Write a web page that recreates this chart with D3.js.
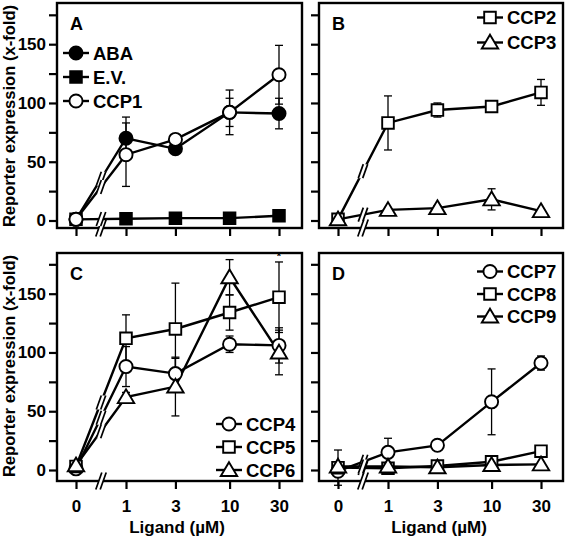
<!DOCTYPE html>
<html><head><meta charset="utf-8">
<script src="https://cdn.jsdelivr.net/npm/d3@7"></script>
<style>body{margin:0;background:#fff}svg{display:block}text{font-family:"Liberation Sans",Arial,sans-serif;font-weight:bold;fill:#000}</style>
</head><body>
<script>
// ---- data ----
const xValues = [0, 1, 3, 10, 30];
const xTickLabels = ["0", "1", "3", "10", "30"];
const yMajorTicks = [0, 50, 100, 150];
const yMinorTicks = [25, 75, 125, 175];

// Panel A
const abaVals   = [1, 70, 61, 92, 91];
const abaErr    = [0, 18, 3, 12, 13];
const evVals    = [1, 1.5, 2, 2, 4];
const evErr     = [0, 0, 0, 0, 0];
const ccp1Vals  = [1, 56, 69, 92, 124];
const ccp1Err   = [0, 27, 3, 19, 25];
// Panel B
const ccp2Vals  = [1, 83, 94, 97, 109];
const ccp2Err   = [0, 23, 6, 3, 11];
const ccp3Vals  = [1, 9, 10.5, 18, 8];
const ccp3Err   = [0, 2, 2, 9, 2];
// Panel C
const ccp4Vals  = [1, 88, 82, 107, 106];
const ccp4Err   = [0, 17, 13, 7, 15];
const ccp5Vals  = [3, 112, 120, 134, 147];
const ccp5Err   = [0, 20, 39, 15, 30];
const ccp6Vals  = [4, 62, 71, 164, 100];
const ccp6Err   = [0, 4, 25, 15, 19];
// Panel D
const ccp7Vals  = [-1, 15, 21, 58, 91];
const ccp7Err   = [0, 12, 3, 28, 6];
const ccp8Vals  = [2, 1.5, 3.4, 7, 16];
const ccp8Err   = [15, 0, 0, 0, 0];
const ccp9Vals  = [3, 3, 2.3, 4.3, 4.8];
const ccp9Err   = [0, 0, 0, 0, 0];

const panels = [
  {letter:"A", row:0, col:0, legendAt:"left", series:[
    {name:"ABA", sym:"circle", fill:"#000", v:abaVals, e:abaErr},
    {name:"E.V.", sym:"square", fill:"#000", v:evVals, e:evErr},
    {name:"CCP1", sym:"circle", fill:"#fff", v:ccp1Vals, e:ccp1Err}]},
  {letter:"B", row:0, col:1, legendAt:"right", series:[
    {name:"CCP2", sym:"square", fill:"#fff", v:ccp2Vals, e:ccp2Err},
    {name:"CCP3", sym:"triangle", fill:"#fff", v:ccp3Vals, e:ccp3Err}]},
  {letter:"C", row:1, col:0, legendAt:"bottomright", series:[
    {name:"CCP4", sym:"circle", fill:"#fff", v:ccp4Vals, e:ccp4Err},
    {name:"CCP5", sym:"square", fill:"#fff", v:ccp5Vals, e:ccp5Err},
    {name:"CCP6", sym:"triangle", fill:"#fff", v:ccp6Vals, e:ccp6Err}]},
  {letter:"D", row:1, col:1, legendAt:"right", series:[
    {name:"CCP7", sym:"circle", fill:"#fff", v:ccp7Vals, e:ccp7Err},
    {name:"CCP8", sym:"square", fill:"#fff", v:ccp8Vals, e:ccp8Err},
    {name:"CCP9", sym:"triangle", fill:"#fff", v:ccp9Vals, e:ccp9Err}]}
];

// ---- layout ----
const W = 566, H = 537;
const rows = [{top:3, bottom:228, zero:220.5}, {top:253, bottom:481, zero:470}];
const cols = [{left:57, right:302}, {left:319, right:563}];
const svg = d3.select("body").append("svg").attr("width", W).attr("height", H);

function symPath(sym) {
  if (sym === "circle") return d3.symbol(d3.symbolCircle, 135)();
  if (sym === "square") return d3.symbol(d3.symbolSquare, 135)();
  return "M0,-7.8L8.2,6L-8.2,6Z";
}

function breakMark(g, bx, by, dx, dy, gap) {
  g.append("path")
    .attr("d", `M${bx-gap-dx},${by+dy}L${bx-gap+dx},${by-dy}L${bx+gap+dx},${by-dy}L${bx+gap-dx},${by+dy}Z`)
    .attr("fill", "#fff").attr("stroke", "none");
  [-gap, gap].forEach(o => g.append("line")
    .attr("x1", bx+o-dx).attr("y1", by+dy).attr("x2", bx+o+dx).attr("y2", by-dy)
    .attr("stroke", "#000").attr("stroke-width", 1.7));
}

panels.forEach(p => {
  const r = rows[p.row], c = cols[p.col];
  const g = svg.append("g");
  const y = d3.scaleLinear().domain([0, 150]).range([r.zero, r.zero - 176.3]);
  const xl = d3.scaleLog().domain([1, 30]).range([c.left + 69, c.left + 222]);
  const x = v => v === 0 ? xl(1) - 50 : xl(v);
  const breakX = c.left + 44;

  // y axis ticks
  const yAxis = d3.axisLeft(y).tickValues(yMajorTicks.concat(yMinorTicks)).tickSize(8)
    .tickFormat(d => (p.col === 0 && yMajorTicks.includes(d)) ? d : "");
  const ya = g.append("g").attr("transform", `translate(${c.left},0)`).call(yAxis);
  ya.select(".domain").remove();
  ya.selectAll(".tick line").attr("stroke", "#000").attr("stroke-width", 2.2);
  ya.selectAll(".tick text").attr("x", -11).style("font-size", "17px")
    .style("font-family", '"Liberation Sans",Arial,sans-serif').style("font-weight", "bold").attr("fill", "#000");

  // x axis ticks
  const xs = d3.scaleOrdinal().domain(xValues).range(xValues.map(x));
  const xAxis = d3.axisBottom(xs).tickSize(8)
    .tickFormat((d, i) => p.row === 1 ? xTickLabels[i] : "");
  const xa = g.append("g").attr("transform", `translate(0,${r.bottom})`).call(xAxis);
  xa.select(".domain").remove();
  xa.selectAll(".tick line").attr("stroke", "#000").attr("stroke-width", 2.2);
  xa.selectAll(".tick text").attr("y", 19).style("font-size", "17px")
    .style("font-family", '"Liberation Sans",Arial,sans-serif').style("font-weight", "bold").attr("fill", "#000");

  // frame
  g.append("rect").attr("x", c.left).attr("y", r.top)
    .attr("width", c.right - c.left).attr("height", r.bottom - r.top)
    .attr("fill", "none").attr("stroke", "#000").attr("stroke-width", 2.4);
  breakMark(g, breakX, r.bottom, 3, 8.5, 2.2);

  // series lines
  const line = d3.line().x(d => x(d[0])).y(d => y(d[1]));
  p.series.forEach(s => {
    const pts = xValues.map((xv, i) => [xv, s.v[i]]);
    g.append("path").attr("d", line(pts)).attr("fill", "none")
      .attr("stroke", "#000").attr("stroke-width", 2.4);
  });
  // break marks on lines between 0 and 1
  p.series.forEach(s => {
    const x0 = x(0), x1 = x(1), y0 = y(s.v[0]), y1 = y(s.v[1]);
    const t = (breakX - x0) / (x1 - x0);
    breakMark(g, breakX, y0 + t * (y1 - y0), 2.5, 7, 2.2);
  });
  // error bars
  p.series.forEach(s => {
    xValues.forEach((xv, i) => {
      const e = s.e[i];
      if (!e) return;
      const cx = x(xv), yt = y(s.v[i] + e), yb = y(s.v[i] - e);
      g.append("line").attr("x1", cx).attr("x2", cx).attr("y1", yt).attr("y2", yb)
        .attr("stroke", "#000").attr("stroke-width", 1.3);
      [yt, yb].forEach(yy => g.append("line").attr("x1", cx - 4).attr("x2", cx + 4)
        .attr("y1", yy).attr("y2", yy).attr("stroke", "#000").attr("stroke-width", 1.3));
    });
  });
  // markers
  p.series.forEach(s => {
    xValues.forEach((xv, i) => {
      g.append("path").attr("d", symPath(s.sym))
        .attr("transform", `translate(${x(xv)},${y(s.v[i])})`)
        .attr("fill", s.fill).attr("stroke", "#000").attr("stroke-width", 1.9);
    });
  });

  // panel letter
  g.append("text").attr("x", c.left + 13).attr("y", r.top + 27)
    .style("font-size", "18px").text(p.letter);

  // legend
  let lx, ly0, step;
  if (p.legendAt === "left") { lx = c.left + 19; ly0 = r.top + 50; step = 24; }
  else if (p.legendAt === "right") { lx = c.right - 73; ly0 = r.top + (p.row === 0 ? 14.5 : 18.5); step = p.row === 0 ? 25 : 22.5; }
  else { lx = c.right - 73; ly0 = r.top + 171; step = 23; }
  p.series.forEach((s, i) => {
    const ly = ly0 + i * step;
    g.append("line").attr("x1", lx - 13).attr("x2", lx + 13).attr("y1", ly).attr("y2", ly)
      .attr("stroke", "#000").attr("stroke-width", 2.4);
    g.append("path").attr("d", symPath(s.sym)).attr("transform", `translate(${lx},${ly})`)
      .attr("fill", s.fill).attr("stroke", "#000").attr("stroke-width", 1.9);
    g.append("text").attr("x", lx + 17).attr("y", ly).attr("dy", "0.36em")
      .style("font-size", "18.5px").text(s.name);
  });

  if (p.letter === "C") {
    g.append("text").attr("x", x(30)).attr("y", y(ccp5Vals[4] + ccp5Err[4]) - 2)
      .attr("text-anchor", "middle").style("font-size", "11px").text("*");
  }
  if (p.row === 1) {
    g.append("text").attr("x", c.left + 120).attr("y", 533).attr("text-anchor", "middle")
      .style("font-size", "17px").text("Ligand (µM)");
  }
});

// y axis titles
rows.forEach((r, i) => {
  svg.append("text").attr("transform", `translate(14.5,${i === 0 ? 116 : 366}) rotate(-90)`)
    .attr("text-anchor", "middle").style("font-size", "16.6px").text("Reporter expression (x-fold)");
});
</script>
</body></html>
